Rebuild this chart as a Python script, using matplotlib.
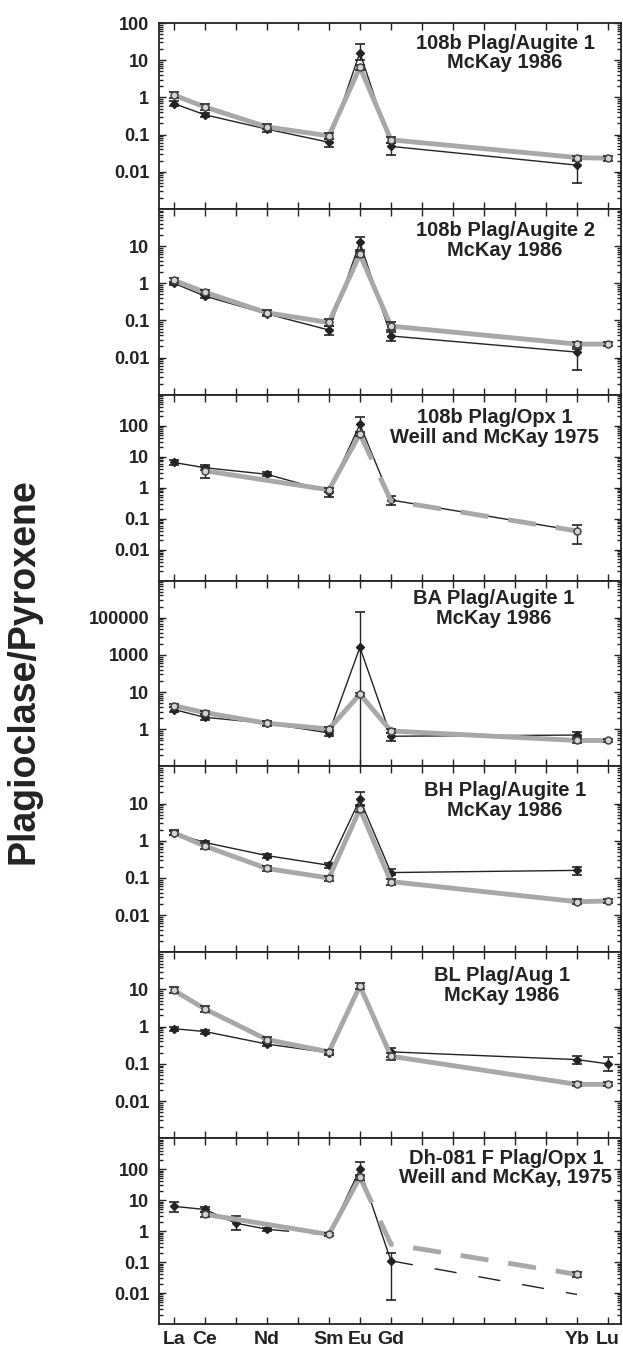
import numpy as np
import matplotlib.pyplot as plt
from matplotlib.ticker import FixedLocator, FixedFormatter, LogLocator, NullFormatter

plt.rcParams['font.family'] = ['Liberation Sans', 'DejaVu Sans']
plt.rcParams['font.weight'] = 'bold'

INK = '#232323'
GREY = '#a8a8a8'

# rare earth elements along the x axis, and the ones that get a label
ree = ['La', 'Ce', 'Pr', 'Nd', 'Pm', 'Sm', 'Eu', 'Gd', 'Tb', 'Dy', 'Ho', 'Er', 'Tm', 'Yb', 'Lu']
ree_labels = ['La', 'Ce', '', 'Nd', '', 'Sm', 'Eu', 'Gd', '', '', '', '', '', 'Yb', 'Lu']

titles = ['108b Plag/Augite 1\nMcKay 1986',
          '108b Plag/Augite 2\nMcKay 1986',
          '108b Plag/Opx 1\nWeill and McKay 1975',
          'BA Plag/Augite 1\nMcKay 1986',
          'BH Plag/Augite 1\nMcKay 1986',
          'BL Plag/Aug 1\nMcKay 1986',
          'Dh-081 F Plag/Opx 1\nWeill and McKay, 1975']

ylims = [(1e-3, 1e2), (1e-3, 1e2), (1e-3, 1e3), (0.1, 1e4), (1e-3, 1e2), (1e-3, 1e2), (1e-3, 1e3)]
yticks_top = [100, 10, 1, 0.1, 0.01]
ylabels_top = ['100', '10', '1', '0.1', '0.01']
yticks_std = [10, 1, 0.1, 0.01]
ylabels_std = ['10', '1', '0.1', '0.01']
yticks_ba = [1, 10, 100, 1000]
ylabels_ba = ['1', '10', '1000', '100000']   # as printed on the original axis
panel_ticks = [(yticks_top, ylabels_top), (yticks_std, ylabels_std), (yticks_top, ylabels_top),
               (yticks_ba, ylabels_ba), (yticks_std, ylabels_std), (yticks_std, ylabels_std),
               (yticks_top, ylabels_top)]

# ---- series data: black = thin line/diamonds, grey = thick line/circles ----
# lo/hi are error bar ends (nan = line knot only, no symbol)
# seg: s = solid, d = dashed, g = gap, one letter per segment
p1_blk_el = ['La', 'Ce', 'Nd', 'Sm', 'Eu', 'Gd', 'Yb']
p1_blk = [0.68, 0.34, 0.14, 0.062, 16, 0.048, 0.015]
p1_blk_lo = [0.58, 0.29, 0.12, 0.045, 10, 0.029, 0.005]
p1_blk_hi = [0.78, 0.39, 0.16, 0.075, 27, 0.058, 0.019]
p1_blk_seg = 'ssssss'
p1_gry_el = ['La', 'Ce', 'Nd', 'Sm', 'Eu', 'Gd', 'Yb', 'Lu']
p1_gry = [1.15, 0.55, 0.16, 0.092, 6.5, 0.072, 0.024, 0.023]
p1_gry_lo = [0.95, 0.47, 0.14, 0.075, 5.5, 0.06, 0.021, 0.02]
p1_gry_hi = [1.4, 0.65, 0.19, 0.11, 7.5, 0.085, 0.027, 0.027]
p1_gry_seg = 'sssssss'

p2_blk_el = ['La', 'Ce', 'Nd', 'Sm', 'Eu', 'Gd', 'Yb']
p2_blk = [1.0, 0.45, 0.15, 0.055, 12.5, 0.038, 0.014]
p2_blk_lo = [0.9, 0.4, 0.13, 0.04, 8, 0.028, 0.0047]
p2_blk_hi = [1.1, 0.5, 0.17, 0.07, 18, 0.05, 0.017]
p2_blk_seg = 'ssssss'
p2_gry_el = ['La', 'Ce', 'Nd', 'Sm', 'Eu', 'Gd', 'Yb', 'Lu']
p2_gry = [1.2, 0.57, 0.16, 0.088, 6.0, 0.07, 0.023, 0.023]
p2_gry_lo = [1.0, 0.48, 0.14, 0.07, 5.0, 0.055, 0.019, 0.02]
p2_gry_hi = [1.4, 0.65, 0.19, 0.11, 7.0, 0.09, 0.027, 0.027]
p2_gry_seg = 'sssssss'

p3_blk_el = ['La', 'Ce', 'Nd', 'Sm', 'Eu', 'Gd', 'Yb']
p3_blk = [6.5, 4.4, 2.7, 0.75, 110, 0.4, 0.04]
p3_blk_lo = [5.5, 3.8, 2.3, 0.5, 60, 0.28, np.nan]
p3_blk_hi = [8.0, 5.2, 3.1, 1.0, 190, 0.52, np.nan]
p3_blk_seg = 'ssssss'
p3_gry_el = ['Ce', 'Sm', 'Eu', 'Gd', 'Yb']
p3_gry = [3.5, 0.85, 55, 0.38, 0.04]
p3_gry_lo = [2.0, 0.75, 45, np.nan, 0.015]
p3_gry_hi = [4.5, 0.95, 65, np.nan, 0.062]
p3_gry_seg = 'ssdd'

p4_blk_el = ['La', 'Ce', 'Nd', 'Sm', 'Eu', 'Gd', 'Yb']
p4_blk = [3.4, 2.1, 1.45, 0.8, 160, 0.65, 0.7]
p4_blk_lo = [2.9, 1.8, 1.3, 0.68, 0.05, 0.48, 0.62]
p4_blk_hi = [3.9, 2.4, 1.6, 0.95, 1450, 0.8, 0.85]
p4_blk_seg = 'ssssss'
p4_gry_el = ['La', 'Ce', 'Nd', 'Sm', 'Eu', 'Gd', 'Yb', 'Lu']
p4_gry = [4.3, 2.8, 1.45, 1.02, 8.8, 0.9, 0.5, 0.5]
p4_gry_lo = [3.9, 2.5, 1.25, 0.9, 8.0, 0.8, 0.42, 0.46]
p4_gry_hi = [4.7, 3.1, 1.65, 1.15, 9.6, 1.0, 0.56, 0.54]
p4_gry_seg = 'sssssss'

p5_blk_el = ['La', 'Ce', 'Nd', 'Sm', 'Eu', 'Gd', 'Yb']
p5_blk = [1.6, 0.9, 0.4, 0.22, 13, 0.14, 0.16]
p5_blk_lo = [1.4, 0.8, 0.35, 0.18, 9, 0.12, 0.12]
p5_blk_hi = [1.8, 1.0, 0.45, 0.26, 20, 0.17, 0.2]
p5_blk_seg = 'ssssss'
p5_gry_el = ['La', 'Ce', 'Nd', 'Sm', 'Eu', 'Gd', 'Yb', 'Lu']
p5_gry = [1.65, 0.72, 0.18, 0.1, 7.2, 0.08, 0.023, 0.024]
p5_gry_lo = [1.4, 0.6, 0.15, 0.085, 6.0, 0.065, 0.02, 0.021]
p5_gry_hi = [1.9, 0.85, 0.21, 0.115, 8.5, 0.095, 0.027, 0.027]
p5_gry_seg = 'sssssss'

p6_blk_el = ['La', 'Ce', 'Nd', 'Sm', 'Gd', 'Yb', 'Lu']
p6_blk = [0.88, 0.74, 0.34, 0.2, 0.21, 0.13, 0.1]
p6_blk_lo = [0.75, 0.65, 0.3, 0.17, 0.15, 0.1, 0.065]
p6_blk_hi = [1.0, 0.82, 0.38, 0.24, 0.27, 0.16, 0.15]
p6_blk_seg = 'sssgss'
p6_gry_el = ['La', 'Ce', 'Nd', 'Sm', 'Eu', 'Gd', 'Yb', 'Lu']
p6_gry = [9.5, 3.0, 0.45, 0.21, 12.5, 0.16, 0.028, 0.028]
p6_gry_lo = [8.0, 2.5, 0.38, 0.18, 10, 0.13, 0.025, 0.025]
p6_gry_hi = [11.5, 3.6, 0.52, 0.24, 14.5, 0.19, 0.032, 0.032]
p6_gry_seg = 'sssssss'

p7_blk_el = ['La', 'Ce', 'Pr', 'Nd', 'Sm', 'Eu', 'Gd', 'Yb']
p7_blk = [6.3, 5.0, 1.8, 1.15, 0.75, 100, 0.11, 0.009]
p7_blk_lo = [4.2, 4.2, 1.1, 1.0, np.nan, 60, 0.006, np.nan]
p7_blk_hi = [9.0, 5.8, 3.0, 1.3, np.nan, 165, 0.2, np.nan]
p7_blk_seg = 'sssdssd'
p7_gry_el = ['Ce', 'Sm', 'Eu', 'Gd', 'Yb']
p7_gry = [3.5, 0.78, 55, 0.38, 0.04]
p7_gry_lo = [2.9, 0.68, 45, np.nan, 0.033]
p7_gry_hi = [4.2, 0.9, 65, np.nan, 0.047]
p7_gry_seg = 'ssdd'

blk_series = [
    (p1_blk_el, p1_blk, p1_blk_lo, p1_blk_hi, p1_blk_seg),
    (p2_blk_el, p2_blk, p2_blk_lo, p2_blk_hi, p2_blk_seg),
    (p3_blk_el, p3_blk, p3_blk_lo, p3_blk_hi, p3_blk_seg),
    (p4_blk_el, p4_blk, p4_blk_lo, p4_blk_hi, p4_blk_seg),
    (p5_blk_el, p5_blk, p5_blk_lo, p5_blk_hi, p5_blk_seg),
    (p6_blk_el, p6_blk, p6_blk_lo, p6_blk_hi, p6_blk_seg),
    (p7_blk_el, p7_blk, p7_blk_lo, p7_blk_hi, p7_blk_seg),
]
gry_series = [
    (p1_gry_el, p1_gry, p1_gry_lo, p1_gry_hi, p1_gry_seg),
    (p2_gry_el, p2_gry, p2_gry_lo, p2_gry_hi, p2_gry_seg),
    (p3_gry_el, p3_gry, p3_gry_lo, p3_gry_hi, p3_gry_seg),
    (p4_gry_el, p4_gry, p4_gry_lo, p4_gry_hi, p4_gry_seg),
    (p5_gry_el, p5_gry, p5_gry_lo, p5_gry_hi, p5_gry_seg),
    (p6_gry_el, p6_gry, p6_gry_lo, p6_gry_hi, p6_gry_seg),
    (p7_gry_el, p7_gry, p7_gry_lo, p7_gry_hi, p7_gry_seg),
]

# title block position in axes fraction
title_x = [0.749, 0.749, 0.727, 0.725, 0.749, 0.742, 0.751]
title_y = [0.839, 0.828, 0.823, 0.849, 0.817, 0.823, 0.839]


def draw_series(ax, els, vals, lo, hi, seg, grey):
    x = np.array([ree.index(e) for e in els], float)
    v = np.array(vals, float)
    lo = np.array(lo, float)
    hi = np.array(hi, float)
    if grey:
        lw, col, dash, z = 3.5, GREY, (5.8, 4.1), 4
    else:
        lw, col, dash, z = 1.0, INK, (16, 16), 2
    # join consecutive segments of the same style into one polyline
    i = 0
    while i < len(seg):
        j = i
        while j < len(seg) and seg[j] == seg[i]:
            j += 1
        if seg[i] != 'g':
            line, = ax.plot(x[i:j + 1], v[i:j + 1], color=col, lw=lw, zorder=z,
                            solid_joinstyle='round', solid_capstyle='butt')
            if seg[i] == 'd':
                line.set_dashes(dash)
                line.set_dash_capstyle('butt')
        i = j
    m = ~np.isnan(lo)
    ax.errorbar(x[m], v[m], yerr=[v[m] - lo[m], hi[m] - v[m]], fmt='none',
                ecolor=INK, elinewidth=1, capsize=3.5, capthick=1.2, zorder=z + 0.5)
    if grey:
        ax.plot(x[m], v[m], 'o', ms=5, mfc='#d4d4d4', mec='#444444', mew=1.1, zorder=z + 1)
    else:
        ax.plot(x[m], v[m], 'D', ms=4.5, color=INK, zorder=z + 1)


fig, axes = plt.subplots(7, 1, figsize=(6.23, 13.53), dpi=100, sharex=True)
fig.subplots_adjust(left=0.2552, right=0.9968, top=0.983, bottom=0.0214, hspace=0)

for k, ax in enumerate(axes):
    ax.set_yscale('log')
    draw_series(ax, *blk_series[k], grey=False)
    draw_series(ax, *gry_series[k], grey=True)
    ax.set_ylim(*ylims[k])
    ax.set_xlim(-0.48, 14.42)
    ticks, labels = panel_ticks[k]
    ax.yaxis.set_major_locator(FixedLocator(ticks))
    ax.yaxis.set_major_formatter(FixedFormatter(labels))
    ax.yaxis.set_minor_locator(LogLocator(base=10, subs=np.arange(2, 10), numticks=30))
    ax.yaxis.set_minor_formatter(NullFormatter())
    ax.tick_params(which='both', direction='in', top=True, right=True, colors=INK, width=1)
    ax.tick_params(axis='y', which='major', length=5, labelsize=13, pad=7)
    ax.tick_params(axis='y', which='minor', length=3)
    for s in ax.spines.values():
        s.set_linewidth(1.3)
        s.set_color(INK)
    ax.text(title_x[k], title_y[k], titles[k], transform=ax.transAxes, ha='center',
            va='center', fontsize=14.5, linespacing=1.05, color=INK)

axes[-1].set_xticks(range(len(ree)))
axes[-1].set_xticklabels(ree_labels)
for ax in axes:
    ax.tick_params(axis='x', which='major', length=5, labelsize=14, pad=5)

fig.text(24 / 623, 0.504, 'Plagioclase/Pyroxene', rotation=90, ha='center', va='center',
         fontsize=27, fontweight='bold', color=INK)

fig.savefig('out.png', dpi=100)
